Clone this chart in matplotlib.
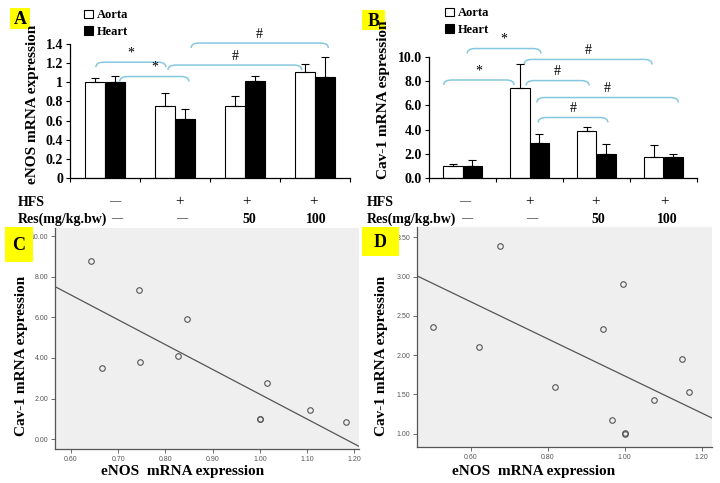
import matplotlib.pyplot as plt
import numpy as np
from matplotlib.path import Path
from matplotlib.patches import PathPatch, Rectangle

plt.rcParams['font.family'] = ['Liberation Serif', 'DejaVu Sans']

# groups: control, HFS, HFS+Res50, HFS+Res100
hfs_row = ['—', '+', '+', '+']
res_row = ['—', '—', '50', '100']

enos_aorta = [1.00, 0.75, 0.75, 1.11]
enos_aorta_err = [0.05, 0.14, 0.11, 0.08]
enos_heart = [1.00, 0.62, 1.01, 1.06]
enos_heart_err = [0.07, 0.10, 0.06, 0.20]

cav_aorta = [1.0, 7.4, 3.85, 1.7]
cav_aorta_err = [0.15, 2.0, 0.4, 1.0]
cav_heart = [1.0, 2.9, 2.0, 1.75]
cav_heart_err = [0.45, 0.75, 0.8, 0.2]

# significance brackets: x start, x end (category units), height, symbol
enos_sig = [(-0.13, 0.87, 1.21, '*'), (0.21, 1.20, 1.06, '*'),
            (0.90, 2.81, 1.18, '#'), (1.23, 3.19, 1.41, '#')]
cav_sig = [(0.07, 1.17, 10.7, '*'), (-0.28, 0.77, 8.1, '*'),
           (0.92, 2.83, 9.8, '#'), (0.95, 1.89, 8.05, '#'),
           (1.11, 3.22, 6.65, '#'), (1.13, 2.17, 5.0, '#')]

# correlation panels
c_x = [0.642, 0.743, 0.845, 0.666, 0.747, 0.827, 1.016, 1.00, 1.00, 1.107, 1.182]
c_y = [8.80, 7.37, 5.94, 3.50, 3.81, 4.10, 2.76, 1.01, 1.00, 1.43, 0.82]
c_fit_x = [0.566, 1.21]
c_fit_y = [7.52, -0.36]

d_x = [0.675, 0.996, 0.502, 0.944, 0.620, 1.149, 0.818, 1.168, 1.076, 0.967, 1.00, 1.00]
d_y = [3.39, 2.91, 2.36, 2.33, 2.10, 1.95, 1.59, 1.53, 1.43, 1.17, 1.00, 1.01]
d_fit_x = [0.460, 1.227]
d_fit_y = [3.01, 1.20]

W, H = 720, 483
def fx(px):
    return px / W
def fy(py):
    return 1 - py / H
def box(l, t, r, b):
    return [fx(l), fy(b), (r - l) / W, (b - t) / H]

blue = '#86c8df'
bold = dict(fontweight='bold')

fig = plt.figure(figsize=(7.2, 4.83), dpi=100)


def bar_panel(ax, aorta, aerr, heart, herr, ylim, yticks, ylabels, sig, ylab, lab_xy):
    x = np.arange(len(aorta))
    w = 0.29
    z = np.zeros(len(aorta))
    ax.bar(x - w / 2, aorta, w, color='white', edgecolor='black', lw=0.8,
           yerr=[z, aerr], capsize=3, error_kw=dict(lw=0.8, capthick=0.8), label='Aorta')
    ax.bar(x + w / 2, heart, w, color='black', edgecolor='black', lw=0.8,
           yerr=[z, herr], capsize=3, error_kw=dict(lw=0.8, capthick=0.8), label='Heart')
    ax.set_xlim(-0.5, 3.5)
    ax.set_ylim(*ylim)
    ax.set_yticks(yticks)
    ax.set_yticklabels(ylabels, fontsize=10, **bold)
    ax.set_xticks(np.arange(-0.5, 4, 1))
    ax.set_xticklabels([])
    ax.tick_params(axis='y', length=3, width=0.8, pad=2)
    ax.tick_params(axis='x', length=3, width=0.8)
    for s in ['top', 'right']:
        ax.spines[s].set_visible(False)
    for s in ['left', 'bottom']:
        ax.spines[s].set_linewidth(0.9)

    # bracket size in data units
    pos = ax.get_position()
    ppx = pos.width * W / 4.0
    ppy = pos.height * H / (ylim[1] - ylim[0])
    dx, dy = 8 / ppx, 5 / ppy
    for x1, x2, yy, sym in sig:
        verts = [(x1, yy - dy), (x1, yy), (x1 + dx, yy), (x2 - dx, yy), (x2, yy), (x2, yy - dy)]
        codes = [Path.MOVETO, Path.CURVE3, Path.CURVE3, Path.LINETO, Path.CURVE3, Path.CURVE3]
        ax.add_patch(PathPatch(Path(verts, codes), fill=False, ec=blue, lw=1.1, clip_on=False))
        ax.text((x1 + x2) / 2, yy + 9 / ppy, sym, ha='center', va='center', fontsize=10, clip_on=False)

    fig.text(lab_xy[0], lab_xy[1], ylab, rotation=90, ha='center', va='center', fontsize=11, **bold)


axA = fig.add_axes(box(70, 44, 350, 178))
bar_panel(axA, enos_aorta, enos_aorta_err, enos_heart, enos_heart_err, (0, 1.4),
          np.arange(0, 1.41, 0.2), ['0', '0.2', '0.4', '0.6', '0.8', '1', '1.2', '1.4'],
          enos_sig, 'eNOS mRNA expression', (fx(33), fy(104)))
axA.legend(loc='upper left', bbox_to_anchor=(fx(78), fy(3)), bbox_transform=fig.transFigure,
           frameon=False, handlelength=0.7, handleheight=0.7, handletextpad=0.3,
           labelspacing=0.35, borderpad=0, prop=dict(family='Liberation Serif', weight='bold', size=9))

axB = fig.add_axes(box(429, 57, 697, 178))
bar_panel(axB, cav_aorta, cav_aorta_err, cav_heart, cav_heart_err, (0, 10),
          np.arange(0, 10.1, 2), ['0.0', '2.0', '4.0', '6.0', '8.0', '10.0'],
          cav_sig, 'Cav-1 mRNA espression', (fx(384), fy(100)))
axB.legend(loc='upper left', bbox_to_anchor=(fx(439), fy(1)), bbox_transform=fig.transFigure,
           frameon=False, handlelength=0.7, handleheight=0.7, handletextpad=0.3,
           labelspacing=0.35, borderpad=0, prop=dict(family='Liberation Serif', weight='bold', size=9))

# HFS / Res rows
for left, cols in [(18, [115, 180, 247, 314]), (367, [465, 530, 596, 665])]:
    fig.text(fx(left), fy(202), 'HFS', ha='left', va='center', fontsize=10, **bold)
    fig.text(fx(left), fy(219), 'Res(mg/kg.bw)', ha='left', va='center', fontsize=10, **bold)
    for c, h, r in zip(cols, hfs_row, res_row):
        hs = 8 if h == '—' else 11
        fig.text(fx(c), fy(202), h, ha='center', va='center', fontsize=hs)
        if r == '—':
            fig.text(fx(c + 2), fy(219), r, ha='center', va='center', fontsize=8)
        else:
            fig.text(fx(c + 2), fy(219), r, ha='center', va='center', fontsize=10, **bold)


def scatter_panel(ax, x, y, fx_, fy_, xlim, ylim, xt, yt, xlab_xy, ylab_xy):
    ax.set_facecolor('#efefef')
    ax.plot(x, y, 'o', ms=4, mfc='none', mec='#555555', mew=0.8)
    ax.plot(fx_, fy_, color='#555555', lw=0.9)
    ax.set_xlim(*xlim)
    ax.set_ylim(*ylim)
    ax.set_xticks(xt)
    ax.set_xticklabels(['%.2f' % v for v in xt])
    ax.set_yticks(yt)
    ax.set_yticklabels(['%.2f' % v for v in yt])
    ax.tick_params(labelsize=5, labelcolor='#555555', color='#555555', length=3, width=0.6, pad=2)
    for lbl in ax.get_xticklabels() + ax.get_yticklabels():
        lbl.set_family('Liberation Sans')
    for s in ['top', 'right']:
        ax.spines[s].set_visible(False)
    for s in ['left', 'bottom']:
        ax.spines[s].set_color('#555555')
        ax.spines[s].set_linewidth(0.9)
    fig.text(xlab_xy[0], xlab_xy[1], 'eNOS  mRNA expression', ha='center', va='center', fontsize=11, **bold)
    fig.text(ylab_xy[0], ylab_xy[1], 'Cav-1 mRNA expression', rotation=90, ha='center', va='center',
             fontsize=11, **bold)


axC = fig.add_axes(box(55, 228, 359, 449))
scatter_panel(axC, c_x, c_y, c_fit_x, c_fit_y, (0.566, 1.21), (-0.49, 10.41),
              np.arange(0.6, 1.21, 0.1), np.arange(0, 10.1, 2), (fx(183), fy(472)), (fx(22), fy(356)))

axD = fig.add_axes(box(417, 227, 712, 447))
scatter_panel(axD, d_x, d_y, d_fit_x, d_fit_y, (0.460, 1.227), (0.831, 3.632),
              np.arange(0.6, 1.21, 0.2), np.arange(1.0, 3.51, 0.5), (fx(534), fy(472)), (fx(382), fy(356)))

# panel letters
for l, t, r, b, s in [(10, 8, 30, 29, 'A'), (362, 10, 385, 30, 'B'),
                      (5, 227, 33, 262, 'C'), (362, 227, 399, 256, 'D')]:
    fig.add_artist(Rectangle((fx(l), fy(b)), (r - l) / W, (b - t) / H, transform=fig.transFigure,
                             fc='#ffff00', ec='none'))
    fig.text(fx((l + r) / 2), fy((t + b) / 2 + 1), s, ha='center', va='center', fontsize=13, **bold)

fig.savefig('out.png', dpi=100)
